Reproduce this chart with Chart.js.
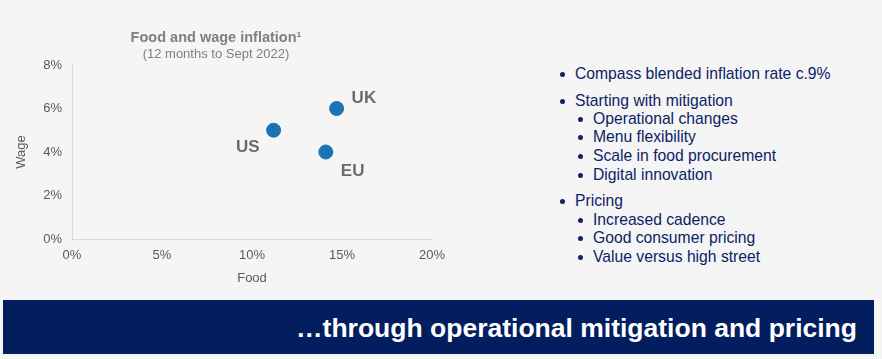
<!DOCTYPE html>
<html>
<head>
<meta charset="utf-8">
<script src="https://cdn.jsdelivr.net/npm/chart.js@4/dist/chart.umd.min.js"></script>
<style>
  body { margin: 0; width: 882px; height: 359px; background: #f5f5f5; position: relative; overflow: hidden; font-family: "Liberation Sans", Arial, sans-serif; }
  #chartBox { position: absolute; left: 0; top: 0; width: 460px; height: 286px; }
  .item { position: absolute; color: #0c2265; font-size: 15.7px; line-height: 18px; white-space: nowrap; }
  .item::before { content: ""; position: absolute; left: -15px; top: 6.5px; width: 5px; height: 5px; border-radius: 50%; background: #0c2265; }
  .banner { position: absolute; left: 3px; top: 300px; width: 871px; height: 54px; background: #021e5e; }
  .banner span { position: absolute; right: 17px; top: 13px; color: #fff; font-weight: bold; font-size: 26.5px; white-space: nowrap; }
</style>
</head>
<body>
<div id="chartBox"><canvas id="myChart"></canvas></div>

<div class="item" style="left:575px; top:65px;">Compass blended inflation rate c.9%</div>
<div class="item" style="left:575px; top:92px;">Starting with mitigation</div>
<div class="item" style="left:593px; top:110px;">Operational changes</div>
<div class="item" style="left:593px; top:128px;">Menu flexibility</div>
<div class="item" style="left:593px; top:147px;">Scale in food procurement</div>
<div class="item" style="left:593px; top:166px;">Digital innovation</div>
<div class="item" style="left:575px; top:192px;">Pricing</div>
<div class="item" style="left:593px; top:211px;">Increased cadence</div>
<div class="item" style="left:593px; top:229px;">Good consumer pricing</div>
<div class="item" style="left:593px; top:248px;">Value versus high street</div>

<div class="banner"><span>…through operational mitigation and pricing</span></div>

<script>
// Food and wage inflation, 12 months to Sept 2022
const regions = ['UK', 'US', 'EU'];
const foodInflation = [14.7, 11.2, 14.1];
const wageInflation = [6.0, 5.0, 4.0];

// point labels, offset from each point
const pointLabels = {
    id: 'pointLabels',
    afterDatasetsDraw(chart) {
        const ctx = chart.ctx;
        const meta = chart.getDatasetMeta(0);
        const offsets = { UK: [15, -10, 'left'], US: [-14, 17, 'right'], EU: [15, 19, 'left'] };
        ctx.save();
        ctx.font = 'bold 17px "Liberation Sans", Arial, sans-serif';
        ctx.fillStyle = '#6b6b6b';
        ctx.textBaseline = 'middle';
        meta.data.forEach((pt, i) => {
            const o = offsets[regions[i]];
            ctx.textAlign = o[2];
            ctx.fillText(regions[i], pt.x + o[0], pt.y + o[1]);
        });
        ctx.restore();
    }
};

const font = '"Liberation Sans", Arial, sans-serif';

const ctx = document.getElementById('myChart').getContext('2d');
const myChart = new Chart(ctx, {
    type: 'scatter',
    data: {
        datasets: [{
            label: 'Inflation',
            data: regions.map((r, i) => ({ x: foodInflation[i], y: wageInflation[i] })),
            backgroundColor: '#1b72b5',
            borderColor: '#1b72b5',
            pointRadius: 7,
            pointHoverRadius: 7
        }]
    },
    options: {
        responsive: true,
        maintainAspectRatio: false,
        animation: false,
        layout: { padding: { left: 0, right: 28, top: 0, bottom: 0 } },
        plugins: {
            legend: { display: false },
            tooltip: { enabled: false },
            title: {
                display: true,
                text: 'Food and wage inflation¹',
                color: '#7f7f7f',
                font: { family: font, size: 14.5, weight: 'bold' },
                padding: { top: 29.5, bottom: 0 }
            },
            subtitle: {
                display: true,
                text: '(12 months to Sept 2022)',
                color: '#7f7f7f',
                font: { family: font, size: 13 },
                padding: { top: 0, bottom: 2.5 }
            }
        },
        scales: {
            x: {
                min: 0,
                max: 20,
                ticks: {
                    stepSize: 5,
                    color: '#595959',
                    font: { family: font, size: 13 },
                    padding: 9,
                    callback: v => v + '%'
                },
                grid: { display: false, drawTicks: false },
                border: { color: '#d9d9d9' },
                title: {
                    display: true,
                    text: 'Food',
                    color: '#595959',
                    font: { family: font, size: 13 },
                    padding: { top: 4, bottom: 0 }
                },
                afterFit: scale => { scale.height = 47; }
            },
            y: {
                min: 0,
                max: 8,
                ticks: {
                    stepSize: 2,
                    color: '#595959',
                    font: { family: font, size: 13 },
                    padding: 10,
                    callback: v => v + '%'
                },
                grid: { display: false, drawTicks: false },
                border: { color: '#d9d9d9' },
                title: {
                    display: true,
                    text: 'Wage',
                    color: '#595959',
                    font: { family: font, size: 13 },
                    padding: { top: 14, bottom: 0 }
                },
                afterFit: scale => { scale.width = 72; }
            }
        }
    },
    plugins: [pointLabels]
});
</script>
</body>
</html>
